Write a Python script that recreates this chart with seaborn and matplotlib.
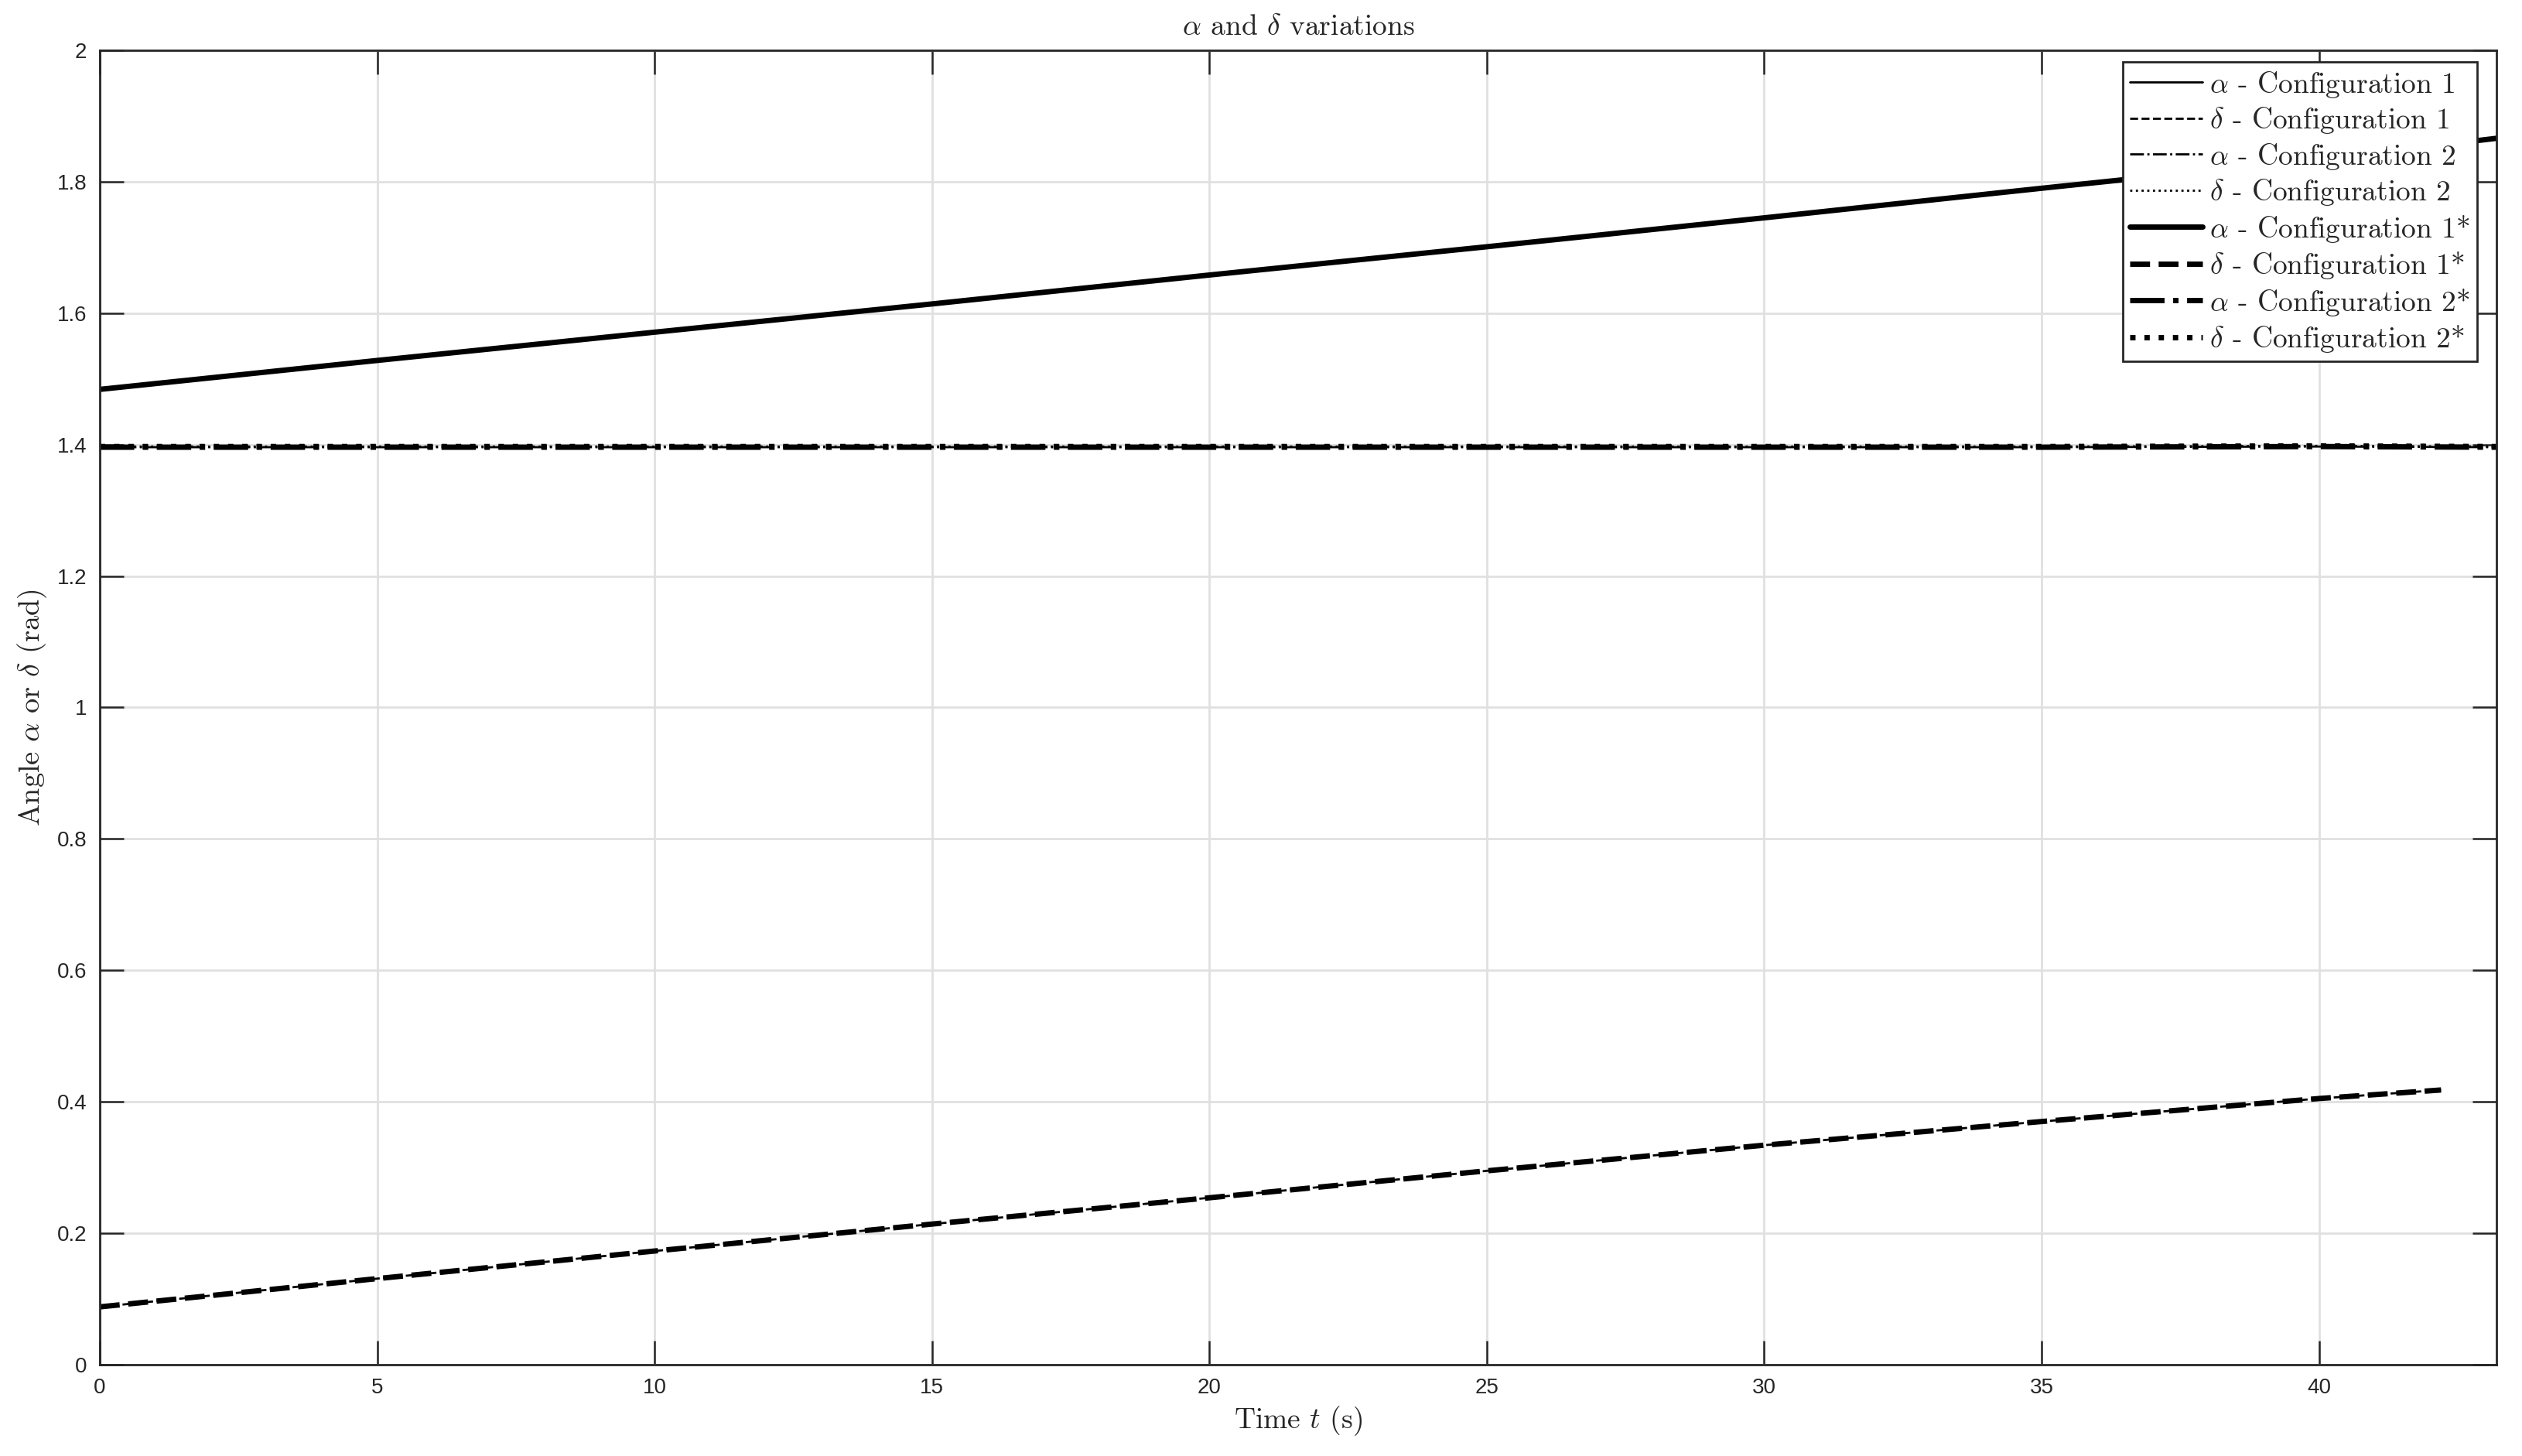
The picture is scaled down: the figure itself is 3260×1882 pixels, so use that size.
import matplotlib
matplotlib.use('Agg')
import matplotlib.pyplot as plt
from matplotlib.ticker import FuncFormatter
import seaborn as sns

# values
t_long = [0, 5, 10, 15, 20, 25, 30, 35, 40, 43.2]
t_short = [0, 5, 10, 15, 20, 25, 30, 35, 40, 42.2]
alpha_c1 = [1.484, 1.528, 1.571, 1.614, 1.658, 1.701, 1.745, 1.790, 1.834, 1.866]
delta_c1 = [0.088, 0.131, 0.173, 0.214, 0.254, 0.295, 0.334, 0.370, 0.405, 0.418]
alpha_c2 = [1.396, 1.396, 1.396, 1.396, 1.396, 1.396, 1.396, 1.396, 1.397, 1.396]
delta_c2 = [1.397, 1.397, 1.397, 1.397, 1.397, 1.397, 1.397, 1.397, 1.398, 1.397]

x_ticks = [0, 5, 10, 15, 20, 25, 30, 35, 40]
y_ticks = [0, 0.2, 0.4, 0.6, 0.8, 1, 1.2, 1.4, 1.6, 1.8, 2]

sns.set_style("whitegrid")
plt.rcParams['font.family'] = ['serif']
plt.rcParams['font.serif'] = ['cmr10', 'DejaVu Serif']
plt.rcParams['mathtext.fontset'] = 'cm'
plt.rcParams['axes.unicode_minus'] = False

fig = plt.figure(figsize=(16.3, 9.41), dpi=200)
ax = fig.add_axes([0.0396, 0.0627, 0.9503, 0.9028])

series = [
    (t_long, alpha_c1, '-', 1.0, r'$\alpha$ - Configuration 1'),
    (t_short, delta_c1, '--', 1.0, r'$\delta$ - Configuration 1'),
    (t_long, alpha_c2, '-.', 1.0, r'$\alpha$ - Configuration 2'),
    (t_long, delta_c2, ':', 1.0, r'$\delta$ - Configuration 2'),
    (t_long, alpha_c1, '-', 2.5, r'$\alpha$ - Configuration 1*'),
    (t_short, delta_c1, '--', 2.5, r'$\delta$ - Configuration 1*'),
    (t_long, alpha_c2, '-.', 2.5, r'$\alpha$ - Configuration 2*'),
    (t_long, delta_c2, ':', 2.5, r'$\delta$ - Configuration 2*'),
]
for t, v, ls, lw, lab in series:
    sns.lineplot(x=t, y=v, ax=ax, color='black', linestyle=ls, linewidth=lw, label=lab)

ax.set_xlim(0, 43.2)
ax.set_ylim(0, 2)
ax.set_xticks(x_ticks)
ax.set_yticks(y_ticks)
fmt = FuncFormatter(lambda v, p: '%g' % v)
ax.xaxis.set_major_formatter(fmt)
ax.yaxis.set_major_formatter(fmt)
for lbl in ax.get_xticklabels() + ax.get_yticklabels():
    lbl.set_family('Liberation Sans')
    lbl.set_fontsize(10)
    lbl.set_color('#262626')

ax.grid(True, color='#e0e0e0', linewidth=1.0)
ax.tick_params(direction='in', length=11, width=0.9, color='#262626',
               top=True, right=True, bottom=True, left=True, pad=6)
for s in ax.spines.values():
    s.set_visible(True)
    s.set_color('#262626')
    s.set_linewidth(1.0)

ax.set_title(r'$\alpha$ and $\delta$ variations', fontsize=13.5, pad=7)
ax.set_xlabel(r'Time $t$ (s)', fontsize=13.5, labelpad=3)
ax.set_ylabel(r'Angle $\alpha$ or $\delta$ (rad)', fontsize=13.8, labelpad=4)

leg = ax.legend(loc='upper right', bbox_to_anchor=(0.992, 0.991), fontsize=13.5,
                frameon=True, fancybox=False, framealpha=1, edgecolor='#262626',
                handlelength=2.5, handletextpad=0.25, labelspacing=0.2,
                borderpad=0.25, borderaxespad=0)
leg.get_frame().set_linewidth(1.0)

fig.savefig('out.png', dpi=200)
